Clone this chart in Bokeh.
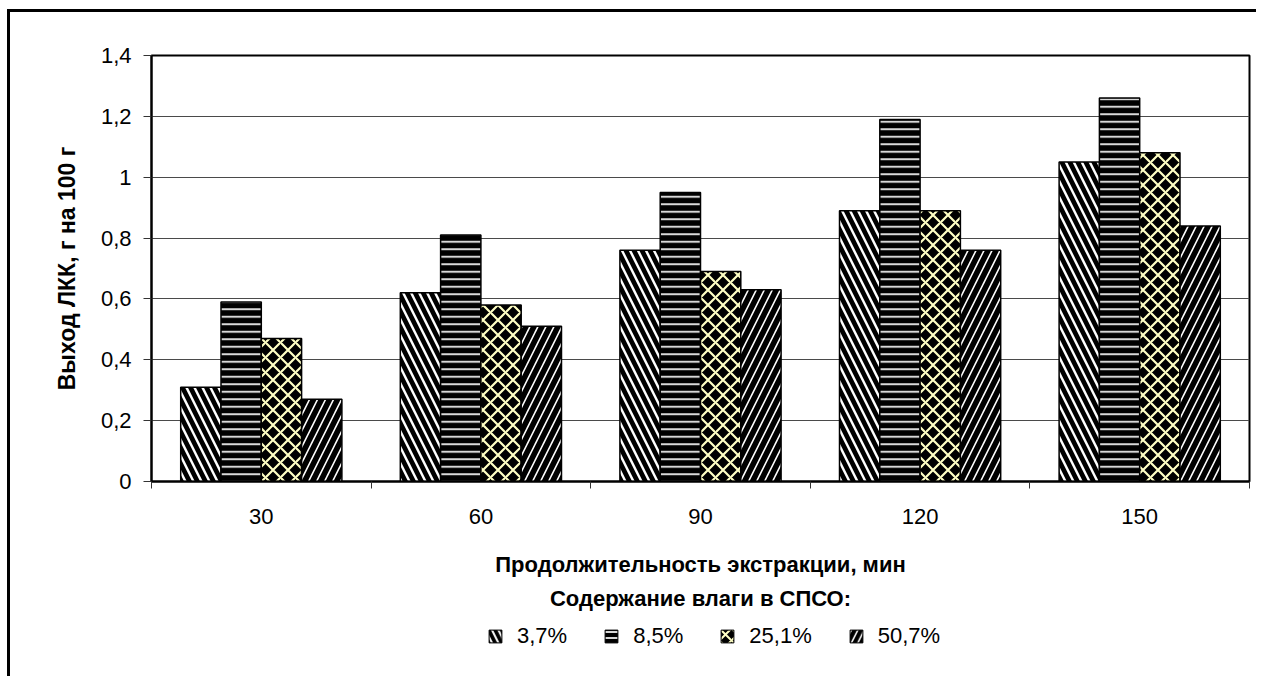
from bokeh.plotting import figure
from bokeh.layouts import column
from bokeh.models import (Range1d, FixedTicker, CustomJSTickFormatter, Legend,
                          LegendItem, ColumnDataSource)
from bokeh.transform import dodge
from bokeh.embed import file_html
from bokeh.resources import INLINE

# ---- data ----
durations = ["30", "60", "90", "120", "150"]
series_names = ["3,7%", "8,5%", "25,1%", "50,7%"]
s_37 = [0.31, 0.62, 0.76, 0.89, 1.05]
s_85 = [0.59, 0.81, 0.95, 1.19, 1.26]
s_251 = [0.47, 0.58, 0.69, 0.89, 1.08]
s_507 = [0.27, 0.51, 0.63, 0.76, 0.84]
y_ticks = [0, 0.2, 0.4, 0.6, 0.8, 1.0, 1.2, 1.4]

x_title = "Продолжительность экстракции, мин"
legend_title = "Содержание влаги в СПСО:"
y_title = "Выход ЛКК, г на 100 г"

FONT = "Liberation Sans"

centers = [i + 0.5 for i in range(len(durations))]
source = ColumnDataSource(dict(xc=centers, s37=s_37, s85=s_85, s251=s_251, s507=s_507))

p = figure(width=1246, height=602, output_backend="svg", toolbar_location=None,
           x_range=Range1d(0, len(durations)), y_range=Range1d(0, 1.4),
           min_border_left=141, min_border_right=7, min_border_top=43,
           min_border_bottom=133, background_fill_color="white",
           border_fill_color="white")

p.outline_line_color = "black"
p.outline_line_width = 2

# grid
p.xgrid.visible = False
p.ygrid.ticker = FixedTicker(ticks=y_ticks, minor_ticks=[])
p.ygrid.grid_line_color = "#4a4a4a"
p.ygrid.grid_line_width = 1

# y axis
p.yaxis.ticker = FixedTicker(ticks=y_ticks, minor_ticks=[])
p.yaxis.formatter = CustomJSTickFormatter(code="return tick.toString().replace('.', ',');")
p.yaxis.major_tick_out = 8
p.yaxis.major_tick_in = 0
p.yaxis.minor_tick_out = 0
p.yaxis.major_tick_line_color = "#333333"
p.yaxis.axis_line_color = "black"
p.yaxis.axis_line_width = 2
p.yaxis.major_label_text_font = FONT
p.yaxis.major_label_text_font_size = "22px"
p.yaxis.major_label_text_color = "black"
p.yaxis.major_label_standoff = 12
p.yaxis.axis_label = y_title
p.yaxis.axis_label_text_font = FONT
p.yaxis.axis_label_text_font_style = "bold"
p.yaxis.axis_label_text_font_size = "23px"
p.yaxis.axis_label_text_color = "black"
p.yaxis.axis_label_standoff = 18

# x axis (its label holds the axis title and the legend title)
p.xaxis.ticker = FixedTicker(ticks=centers, minor_ticks=list(range(len(durations) + 1)))
p.xaxis.major_label_overrides = {c: d for c, d in zip(centers, durations)}
p.xaxis.major_tick_out = 0
p.xaxis.major_tick_in = 0
p.xaxis.minor_tick_out = 7
p.xaxis.minor_tick_in = 0
p.xaxis.minor_tick_line_color = "#333333"
p.xaxis.axis_line_color = "black"
p.xaxis.axis_line_width = 2
p.xaxis.major_label_text_font = FONT
p.xaxis.major_label_text_font_size = "22px"
p.xaxis.major_label_text_color = "black"
p.xaxis.major_label_standoff = 20
p.xaxis.axis_label = x_title + "\n" + legend_title
p.xaxis.axis_label_text_font = FONT
p.xaxis.axis_label_text_font_style = "bold"
p.xaxis.axis_label_text_font_size = "22px"
p.xaxis.axis_label_text_color = "black"
p.xaxis.axis_label_text_align = "center"
p.xaxis.axis_label_text_line_height = 1.38
p.xaxis.axis_label_standoff = 25

# bars
bw = 0.1835
styles = [
    dict(field="s37", hatch_pattern="\\", hatch_color="white", hatch_weight=2.4, hatch_scale=16),
    dict(field="s85", hatch_pattern="-", hatch_color="#d8d8d8", hatch_weight=2, hatch_scale=7.5),
    dict(field="s251", hatch_pattern="x", hatch_color="#ffffc4", hatch_weight=2.2, hatch_scale=15),
    dict(field="s507", hatch_pattern="/", hatch_color="white", hatch_weight=1.6, hatch_scale=16),
]
for j, st in enumerate(styles):
    p.vbar(x=dodge("xc", (j - 1.5) * bw, range=p.x_range), top=st["field"], width=bw,
           source=source, fill_color="black", line_color="black", line_width=1.5,
           hatch_pattern=st["hatch_pattern"], hatch_color=st["hatch_color"],
           hatch_weight=st["hatch_weight"], hatch_scale=st["hatch_scale"])

# legend strip: a second figure whose (off-range) bars only serve as legend swatches
pl = figure(width=1246, height=62, output_backend="svg", toolbar_location=None,
            x_range=Range1d(0, len(durations)), y_range=Range1d(5, 6),
            x_axis_location=None, y_axis_location=None,
            min_border=0, background_fill_color="white", border_fill_color="white")
pl.grid.visible = False
pl.outline_line_color = None
legend_renderers = []
for st in styles:
    r = pl.vbar(x="xc", top=st["field"], width=bw, source=source,
                fill_color="black", line_color="black", line_width=1,
                hatch_pattern=st["hatch_pattern"], hatch_color=st["hatch_color"],
                hatch_weight=min(st["hatch_weight"], 2.0), hatch_scale=st["hatch_scale"] * 0.8)
    legend_renderers.append(r)
legend = Legend(items=[LegendItem(label=n, renderers=[r], index=0)
                       for n, r in zip(series_names, legend_renderers)],
                orientation="horizontal", location=(336, 27),
                glyph_width=16, glyph_height=16, label_standoff=14, spacing=36,
                padding=0, margin=0, border_line_alpha=0, background_fill_alpha=0,
                label_text_font=FONT, label_text_font_size="22px", label_text_color="black")
pl.add_layout(legend, "center")

layout = column(p, pl, spacing=0,
                styles={"margin-left": "7px", "margin-top": "9px",
                        "border-left": "3px solid black", "border-top": "3px solid black"})

open("out.html", "w").write(file_html(layout, INLINE))
